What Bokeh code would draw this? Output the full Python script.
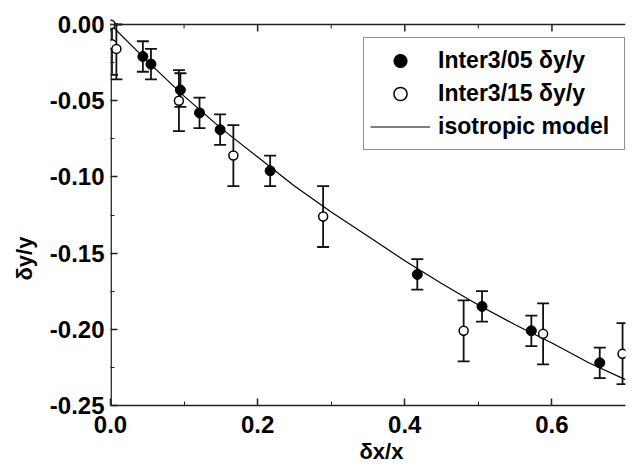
from bokeh.plotting import figure
from bokeh.models import (ColumnDataSource, Range1d, Whisker, TeeHead,
                          Legend, LegendItem, Title, FixedTicker)
from bokeh.embed import file_html
from bokeh.resources import INLINE

# ---- data ----
x05 = [0.044, 0.055, 0.095, 0.121, 0.149, 0.217, 0.417, 0.505, 0.572, 0.665]
y05 = [-0.021, -0.026, -0.043, -0.058, -0.069, -0.096, -0.164, -0.185, -0.201, -0.222]
e05 = [0.010, 0.010, 0.011, 0.010, 0.010, 0.010, 0.010, 0.010, 0.010, 0.010]

x15 = [0.0, 0.002, 0.008, 0.093, 0.167, 0.289, 0.480, 0.588, 0.696]
y15 = [0.0, -0.013, -0.016, -0.050, -0.086, -0.126, -0.201, -0.203, -0.216]
e15 = [0.0, 0.020, 0.020, 0.020, 0.020, 0.020, 0.020, 0.020, 0.020]

xm = [0.0, 0.05, 0.10, 0.15, 0.20, 0.25, 0.30, 0.35, 0.40, 0.45, 0.50, 0.55, 0.60, 0.65, 0.70]
ym = [0.0, -0.024, -0.047, -0.068, -0.087, -0.106, -0.123, -0.139, -0.155, -0.170,
      -0.184, -0.197, -0.209, -0.222, -0.233]

xticks = [0.0, 0.2, 0.4, 0.6]
xminor = [0.1, 0.3, 0.5]
yticks = [0.0, -0.05, -0.10, -0.15, -0.20, -0.25]
yminor = [-0.025, -0.075, -0.125, -0.175, -0.225]
xtick_labels = ["0.0", "0.2", "0.4", "0.6"]
ytick_labels = ["0.00", "-0.05", "-0.10", "-0.15", "-0.20", "-0.25"]

FONT = "Liberation Sans"
AX = "#222222"
X_LEFT, X_RIGHT = 0.0, 0.7
Y_TOP, Y_BOTTOM = 0.0, -0.25
PX = (Y_TOP - Y_BOTTOM) / 381.0        # data units per pixel, vertical
PXX = (X_RIGHT - X_LEFT) / 515.0       # data units per pixel, horizontal
PAD = 8 * PX                           # small blank band above the top edge

p = figure(width=626, height=465, output_backend="svg", toolbar_location=None,
           title_location=None,
           x_range=Range1d(X_LEFT, X_RIGHT), y_range=Range1d(Y_BOTTOM, Y_TOP + PAD),
           min_border_left=110, min_border_top=16, min_border_bottom=60, min_border_right=1)
p.xgrid.visible = False
p.ygrid.visible = False
p.outline_line_color = None
p.background_fill_color = "white"
p.border_fill_color = "white"

s05 = ColumnDataSource(dict(x=x05, y=y05, lo=[a - b for a, b in zip(y05, e05)],
                            hi=[a + b for a, b in zip(y05, e05)]))
s15 = ColumnDataSource(dict(x=x15, y=y15, lo=[a - b for a, b in zip(y15, e15)],
                            hi=[min(a + b, Y_TOP) for a, b in zip(y15, e15)]))
sm = ColumnDataSource(dict(x=xm, y=ym))

# box edges: top line with inward ticks, and left edge line
p.hspan(y=[Y_TOP], line_color=AX, line_width=1.6)
p.segment(x0=[X_LEFT + 0.6 * PXX], x1=[X_LEFT + 0.6 * PXX], y0=[Y_TOP], y1=[Y_BOTTOM],
          line_color=AX, line_width=1.6)
p.segment(x0=xticks, x1=xticks, y0=[Y_TOP] * len(xticks),
          y1=[Y_TOP - 7 * PX] * len(xticks), line_color=AX, line_width=1.5)
p.segment(x0=xminor, x1=xminor, y0=[Y_TOP] * len(xminor),
          y1=[Y_TOP - 4 * PX] * len(xminor), line_color=AX, line_width=1.0)

line_r = p.line("x", "y", source=sm, line_color="black", line_width=1.2)

for src in (s15, s05):
    w = Whisker(source=src, base="x", upper="hi", lower="lo", line_color="#111111",
                line_width=1.8,
                upper_head=TeeHead(size=12, line_color="#111111", line_width=1.8),
                lower_head=TeeHead(size=12, line_color="#111111", line_width=1.8))
    p.add_layout(w)

r15 = p.scatter("x", "y", source=s15, size=9, marker="circle", fill_color="white",
                line_color="black", line_width=1.5)
r05 = p.scatter("x", "y", source=s05, size=10, marker="circle", fill_color="black",
                line_color="black", line_width=1.0)

# axes styling
for ax in (p.xaxis[0], p.yaxis[0]):
    ax.axis_line_color = AX
    ax.axis_line_width = 1.5
    ax.major_tick_line_color = AX
    ax.minor_tick_line_color = AX
    ax.major_tick_line_width = 1.5
    ax.major_tick_in = 7
    ax.major_tick_out = 0
    ax.minor_tick_in = 4
    ax.minor_tick_out = 0
    ax.major_label_text_font = FONT
    ax.major_label_text_font_style = "bold"
    ax.major_label_text_font_size = "24px"
    ax.major_label_text_color = "black"

p.yaxis[0].axis_line_color = None     # left edge drawn above so it stops at 0.00
p.xaxis[0].major_label_standoff = 10
p.yaxis[0].major_label_standoff = 6
p.xaxis[0].ticker = FixedTicker(ticks=xticks, minor_ticks=xminor)
p.xaxis[0].major_label_overrides = {t: l for t, l in zip(xticks, xtick_labels)}
p.yaxis[0].ticker = FixedTicker(ticks=yticks, minor_ticks=yminor)
p.yaxis[0].major_label_overrides = {t: l for t, l in zip(yticks, ytick_labels)}

# axis titles
p.add_layout(Title(text="δx/x", align="left", offset=249, standoff=3,
                   text_font=FONT, text_font_style="bold", text_font_size="22px",
                   text_color="black"), "below")
p.add_layout(Title(text="δy/y", align="left", offset=125, standoff=19,
                   text_font=FONT, text_font_style="bold", text_font_size="22px",
                   text_color="black"), "left")

legend = Legend(items=[LegendItem(label="Inter3/05 δy/y", renderers=[r05]),
                       LegendItem(label="Inter3/15 δy/y", renderers=[r15]),
                       LegendItem(label="isotropic model", renderers=[line_r])],
                location=(253, 255), glyph_width=60, glyph_height=33, label_height=33,
                label_width=180, label_standoff=8, spacing=0, padding=6, margin=0,
                label_text_font=FONT, label_text_font_style="bold",
                label_text_font_size="23px", label_text_color="black",
                border_line_color=AX, border_line_width=1.5,
                background_fill_alpha=1.0)
p.add_layout(legend, "center")

open("out.html", "w").write(file_html(p, INLINE))
